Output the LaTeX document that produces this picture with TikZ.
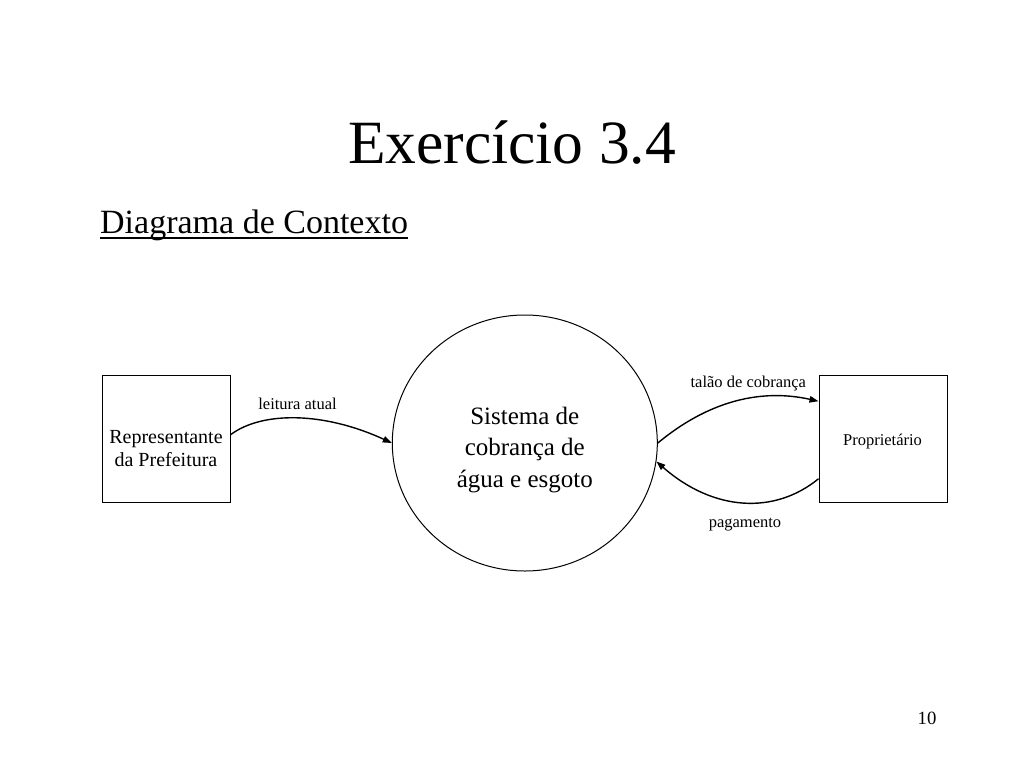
\documentclass[tikz,border=0pt]{standalone}
\usepackage{fontspec}
\setmainfont{Liberation Serif}
\usetikzlibrary{arrows.meta,shapes.geometric}
\begin{document}
\begin{tikzpicture}[x=1pt,y=-1pt,
  box/.style={draw,line width=1pt,minimum width=128pt,minimum height=127.5pt,inner sep=0pt},
  flow/.style={line width=1.4pt,-{Triangle[length=9pt,width=6.5pt]}},
  lbl/.style={font=\fontsize{16.5}{19}\selectfont,inner sep=0pt,anchor=base}]
\useasboundingbox[fill=white] (0,0) rectangle (1024,768);
% titles
\node[inner sep=0pt,anchor=base,font=\fontsize{61.5}{70}\selectfont] (title) at (512,163) {Exercício 3.4};
\node[inner sep=0pt,anchor=base west,font=\fontsize{34}{40}\selectfont] (sub) at (100,233) {Diagrama de Contexto};
\draw[line width=1.6pt] ([yshift=-5pt]sub.base west) -- ([yshift=-5pt]sub.base east);
% entities
\node[box] (rep) at (166,438.75) {};
\node[align=center,inner sep=0pt,font=\fontsize{20}{23}\selectfont] (reptext) at (166,449) {Representante\\da Prefeitura};
\node[box] (prop) at (883,438.75) {};
\node[anchor=base,inner sep=0pt,font=\fontsize{16.5}{19}\selectfont] (proptext) at (882.5,445) {Proprietário};
% process
\node[draw,ellipse,line width=1pt,minimum width=265pt,minimum height=256pt,inner sep=0pt] (sys) at (524.8,443) {};
\node[align=center,inner sep=0pt,font=\fontsize{25}{31.5}\selectfont] (systext) at (524.8,450) {Sistema de\\cobrança de\\água e esgoto};
% flows
\draw[flow] ([yshift=4pt]rep.east) .. controls +(32,-24) and +(-67,-31) .. (sys.west);
\draw[flow] (sys.east) .. controls +(58,-48) and +(-49,-11) .. ([yshift=37.5pt]prop.west);
\draw[flow] ([yshift=-40pt]prop.west) .. controls +(-44,36) and +(57,50) .. (sys.-8);
% labels
\node[lbl] (l1) at (297.5,409) {leitura atual};
\node[lbl] (l2) at (748.3,387.3) {talão de cobrança};
\node[lbl] (l3) at (745,527.3) {pagamento};
% page number
\node[anchor=base,inner sep=0pt,font=\fontsize{18.7}{22}\selectfont] (pg) at (927,724.3) {10};
\end{tikzpicture}
\end{document}
